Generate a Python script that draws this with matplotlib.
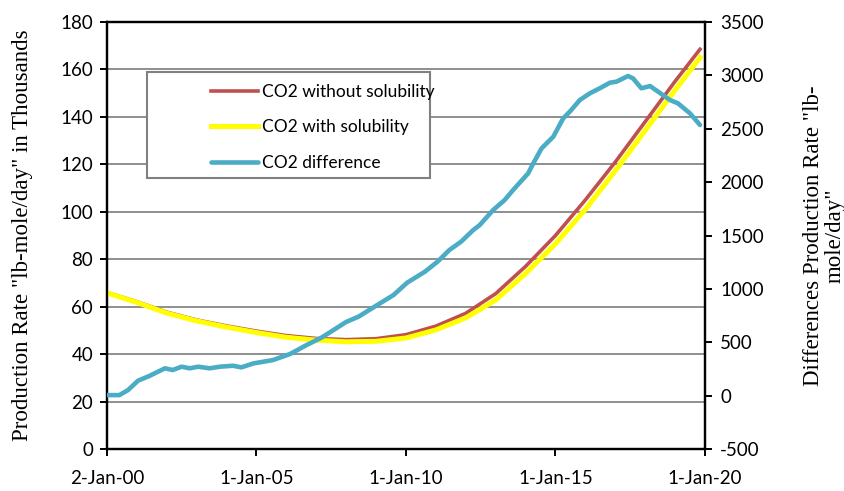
import matplotlib
matplotlib.use('Agg')
import matplotlib.pyplot as plt
from matplotlib.patches import Rectangle
import pandas as pd

plt.rcParams['axes.unicode_minus'] = False

# Podaci (očitani sa slike)
curve_dates = ['2000-01-02', '2001-01-01', '2002-01-01', '2003-01-01', '2004-01-01',
               '2005-01-01', '2006-01-01', '2007-01-01', '2008-01-01', '2009-01-01',
               '2010-01-01', '2011-01-01', '2012-01-01', '2013-01-01', '2014-01-01',
               '2015-01-01', '2016-01-01', '2017-01-01', '2018-01-01', '2019-01-01',
               '2019-11-01']
without_sol = [66, 62.1, 57.7, 54.4, 51.9, 49.7, 47.8, 46.6, 46.1, 46.5, 48.2, 51.8, 57.2,
               65.5, 77, 90, 105, 121, 138, 155, 168.5]
with_sol = [65.8, 61.8, 57.3, 54, 51.4, 49.1, 47.1, 45.9, 45.2, 45.4, 46.8, 50.2, 55.3,
            62.8, 74, 86.5, 101, 117.3, 134.3, 151.3, 165]

diff_dates = ['2000-01-02', '2000-06-01', '2000-09-15', '2001-01-15', '2001-06-01',
              '2001-12-10', '2002-03-15', '2002-07-01', '2002-10-10', '2003-01-20',
              '2003-06-10', '2003-10-10', '2004-03-20', '2004-07-01', '2004-11-25',
              '2005-07-20', '2006-02-15', '2006-09-05', '2007-03-10', '2008-01-01',
              '2008-06-01', '2009-01-15', '2009-08-01', '2010-01-15', '2010-08-20',
              '2011-01-20', '2011-06-15', '2011-11-05', '2012-04-01', '2012-06-20',
              '2012-12-01', '2013-04-20', '2013-08-01', '2014-02-01', '2014-04-05',
              '2014-07-15', '2014-10-05', '2014-12-05', '2015-04-05', '2015-06-25',
              '2015-10-25', '2016-02-25', '2016-06-25', '2016-10-25', '2017-01-15',
              '2017-06-05', '2017-08-05', '2017-11-15', '2018-03-01', '2018-06-25',
              '2018-10-30', '2019-02-05', '2019-07-01', '2019-11-01']
difference = [5, 5, 52, 140, 184, 256, 240, 271, 256, 271, 256, 271, 280, 265, 302,
              333, 390, 474, 545, 690, 740, 849, 942, 1058, 1161, 1254, 1364, 1442,
              1551, 1598, 1739, 1832, 1926, 2082, 2176, 2316, 2379, 2425, 2597, 2660,
              2769, 2832, 2879, 2931, 2941, 2994, 2972, 2879, 2900, 2838, 2769, 2738,
              2645, 2535]

tick_dates = ['2000-01-02', '2005-01-01', '2010-01-01', '2015-01-01', '2020-01-01']
tick_labels = ['2-Jan-00', '1-Jan-05', '1-Jan-10', '1-Jan-15', '1-Jan-20']

sans = ['Lato', 'DejaVu Sans']
serif = ['Liberation Serif', 'DejaVu Serif']

cd = pd.to_datetime(curve_dates)
dd = pd.to_datetime(diff_dates)
td = pd.to_datetime(tick_dates)

fig = plt.figure(figsize=(8.45, 4.91), dpi=100)
ax = fig.add_axes([0.1266, 0.0855, 0.7077, 0.8697])
ax2 = ax.twinx()

l1, = ax.plot(cd, without_sol, color='#C0504D', lw=2.6, label='CO2 without solubility', zorder=3)
l2, = ax.plot(cd, with_sol, color='#FFFF00', lw=3.6, label='CO2 with solubility', zorder=4)
l3, = ax2.plot(dd, difference, color='#4BACC6', lw=3.3, label='CO2 difference',
               solid_capstyle='round', zorder=5)

ax.set_ylim(0, 180)
ax.set_yticks(range(0, 181, 20))
ax2.set_ylim(-500, 3500)
ax2.set_yticks(range(-500, 3501, 500))
ax.set_xlim(td[0], pd.Timestamp('2020-01-01'))
ax.set_xticks(td)
ax.set_xticklabels(tick_labels)

ax.yaxis.grid(True, color='#868686', lw=1.3)
ax.set_axisbelow(True)

for a in (ax, ax2):
    for s in a.spines.values():
        s.set_linewidth(1.6)
        s.set_color('black')
    a.tick_params(width=1.4, length=5, labelsize=13.5, direction='out')
    for t in a.get_xticklabels() + a.get_yticklabels():
        t.set_family(sans)
ax.tick_params(axis='x', pad=10)
ax.tick_params(axis='y', pad=5)
ax2.tick_params(axis='y', pad=6)

ax.set_ylabel('Production Rate "lb-mole/day" in Thousands', family=serif, fontsize=16.5,
              va='center')
ax.yaxis.set_label_coords(-0.142, 0.5)
ax2.set_ylabel('Differences Production Rate "lb-\nmole/day"', family=serif, fontsize=16.5,
               rotation=90, linespacing=1.05, ha='center', va='center')
ax2.yaxis.set_label_coords(1.2, 0.5)

# Okvir legende
ax2.add_patch(Rectangle((0.0669, 0.635), 0.473, 0.248, transform=ax2.transAxes,
                        facecolor='white', edgecolor='#808080', lw=1.5, zorder=6))
leg = ax2.legend(handles=[l1, l2, l3], loc='upper left', bbox_to_anchor=(0.1595, 0.876),
                 frameon=False, borderpad=0, handlelength=2.7, handletextpad=0.23,
                 labelspacing=1.13, prop={'family': sans, 'size': 12.5})
leg.set_zorder(7)

fig.savefig('out.png', dpi=100)
